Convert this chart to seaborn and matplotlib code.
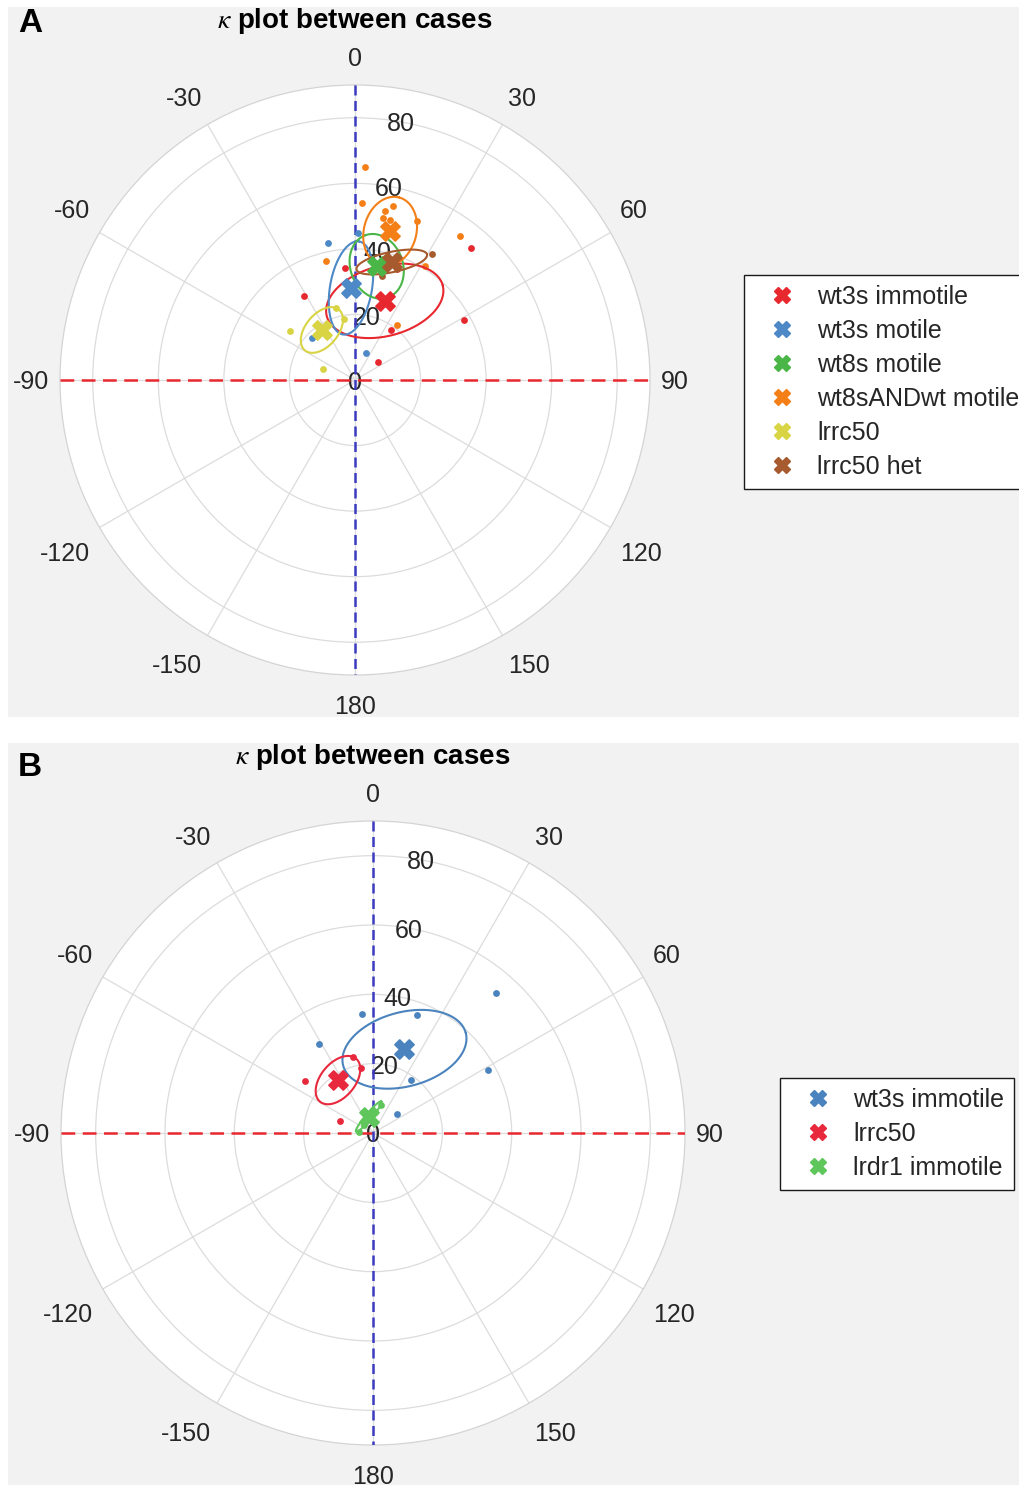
import numpy as np
import matplotlib
matplotlib.use("Agg")
import matplotlib.pyplot as plt
from matplotlib.patches import Rectangle
from matplotlib.lines import Line2D
import seaborn as sns

sns.set_theme(style="white")
plt.rcParams["font.family"] = ["Liberation Sans", "DejaVu Sans"]
plt.rcParams["mathtext.fontset"] = "stix"

W, H = 1019, 1485
DPI = 100

# ---------------- shared case data (theta in degrees, rho) ----------------
wt3s_imm_theta = [41.3, -31.3, -5.3, 61.1, 35.7, 51.5, 20.5]
wt3s_imm_r = [53.6, 30.0, 34.4, 37.9, 18.8, 8.8, 36.2]

wt3s_mot_theta = [-11.1, 1.3, -45.7, 21.8]
wt3s_mot_r = [42.6, 44.9, 18.5, 8.8]

wt8s_mot_theta = []
wt8s_mot_r = []

wt8s_and_wt_theta = [2.7, 2.2, 12.4, 10.1, 9.9, 12.4, 21.3, -13.7, 31.7, 37.9, 36.1]
wt8s_and_wt_r = [65.1, 54.1, 54.5, 52.3, 50.2, 49.9, 52.0, 37.5, 40.7, 21.1, 54.2]

lrrc50_theta = [-53.0, -70.7, -15.0, -10.4]
lrrc50_r = [24.7, 10.2, 22.6, 19.0]

lrrc50_het_theta = [31.6, 14.4]
lrrc50_het_r = [45.1, 32.8]

lrdr1_imm_theta = [-87.1, -48.7, 4.8, 15.0]
lrdr1_imm_r = [4.0, 3.3, 6.0, 8.5]

# group means (theta deg, rho)
mean_theta = {"wt3s immotile": 20.6, "wt3s motile": -2.5, "wt8s motile": 10.8,
              "wt8sANDwt motile": 13.3, "lrrc50": -33.5, "lrrc50 het": 17.3,
              "lrdr1 immotile": -14.5}
mean_r = {"wt3s immotile": 25.8, "wt3s motile": 28.1, "wt8s motile": 35.3,
          "wt8sANDwt motile": 46.6, "lrrc50": 18.3, "lrrc50 het": 37.7,
          "lrdr1 immotile": 4.9}

# spread ellipses: semi-major, semi-minor (rho units), orientation (deg, ccw from 90-direction)
ell_a = {"wt3s immotile": 18.3, "wt3s motile": 14.4, "wt8s motile": 10.1,
         "wt8sANDwt motile": 10.7, "lrrc50": 8.1, "lrrc50 het": 11.0, "lrdr1 immotile": 5.7}
ell_b = {"wt3s immotile": 10.7, "wt3s motile": 6.4, "wt8s motile": 8.0,
         "wt8sANDwt motile": 8.0, "lrrc50": 4.95, "lrrc50 het": 3.1, "lrdr1 immotile": 0.9}
ell_ang = {"wt3s immotile": 15, "wt3s motile": 80, "wt8s motile": 110,
           "wt8sANDwt motile": 75, "lrrc50": 50, "lrrc50 het": 12, "lrdr1 immotile": 50}

points = {"wt3s immotile": (wt3s_imm_theta, wt3s_imm_r),
          "wt3s motile": (wt3s_mot_theta, wt3s_mot_r),
          "wt8s motile": (wt8s_mot_theta, wt8s_mot_r),
          "wt8sANDwt motile": (wt8s_and_wt_theta, wt8s_and_wt_r),
          "lrrc50": (lrrc50_theta, lrrc50_r),
          "lrrc50 het": (lrrc50_het_theta, lrrc50_het_r),
          "lrdr1 immotile": (lrdr1_imm_theta, lrdr1_imm_r)}

panel_a_cases = ["wt3s immotile", "wt3s motile", "wt8s motile", "wt8sANDwt motile", "lrrc50", "lrrc50 het"]
panel_a_colors = ["#e8282f", "#4d88c7", "#4bb648", "#f57f17", "#d8d444", "#a65a2e"]

panel_b_cases = ["wt3s immotile", "lrrc50", "lrdr1 immotile"]
panel_b_colors = ["#4a83bd", "#e8283c", "#5ec65a"]

theta_ticks = list(range(0, 360, 30))
theta_labels = ["0", "30", "60", "90", "120", "150", "180", "-150", "-120", "-90", "-60", "-30"]
r_ticks = [0, 20, 40, 60, 80]
r_max = 90
r_label_angle = 10
TICK_FS = 18
RIM_GAP_PX = 11
UP_SHIFT_PX = 17.5
DOWN_SHIFT_PX = 19
BASE_DROP_PX = 2


def ellipse_outline(tc, rc, a, b, ang, n=300):
    cx = rc * np.sin(np.radians(tc))
    cy = rc * np.cos(np.radians(tc))
    t = np.linspace(0, 2 * np.pi, n)
    phi = np.radians(ang)
    x = cx + a * np.cos(t) * np.cos(phi) - b * np.sin(t) * np.sin(phi)
    y = cy + a * np.cos(t) * np.sin(phi) + b * np.sin(t) * np.cos(phi)
    return np.arctan2(x, y), np.hypot(x, y)


def draw_panel(ax, cases, colors):
    ax.set_theta_zero_location("N")
    ax.set_theta_direction(-1)
    ax.set_facecolor("white")
    ax.set_thetagrids(theta_ticks, labels=[""] * len(theta_ticks))
    ax.set_rlim(0, r_max)
    ax.set_rticks(r_ticks)
    ax.set_yticklabels([""] * len(r_ticks))
    ax.grid(True, color="#dcdcdc", linewidth=0.9)
    ax.spines["polar"].set_color("#d4d4d4")
    ax.spines["polar"].set_linewidth(0.9)

    # angle labels just outside the rim, aligned away from the circle
    for t, lab in zip(theta_ticks, theta_labels):
        s, c = np.sin(np.radians(t)), np.cos(np.radians(t))
        if t in (0, 180):
            ha = "center"
        elif t < 180:
            ha = "left"
        else:
            ha = "right"
        if t in (90, 270):
            dy = 0.0
        elif t < 90 or t > 270:
            dy = UP_SHIFT_PX
        else:
            dy = -DOWN_SHIFT_PX
        dx_px = RIM_GAP_PX * s
        dy_px = RIM_GAP_PX * c + dy - BASE_DROP_PX
        ax.annotate(lab, xy=(np.radians(t), r_max), xytext=(dx_px * 72 / DPI, dy_px * 72 / DPI),
                    textcoords="offset points", ha=ha, va="center",
                    fontsize=TICK_FS, color="#262626", annotation_clip=False)
    # rho labels along a fixed angle
    for v in r_ticks:
        ax.text(np.radians(r_label_angle), v, str(v), ha="center", va="center_baseline",
                fontsize=TICK_FS, color="#262626", zorder=1.6)

    # reference axes
    ax.plot(np.radians([-90, -90, 90, 90]), [r_max, 0, 0, r_max], color="#e8282f",
            linestyle=(0, (5.5, 3.0)), linewidth=1.8, zorder=3)
    ax.plot(np.radians([0, 0, 180, 180]), [r_max, 0, 0, r_max], color="#3c3cc0",
            linestyle=(0, (4.0, 2.2)), linewidth=1.8, zorder=3.1)

    for name, col in zip(cases, colors):
        th, rr = points[name]
        if len(th):
            sns.scatterplot(x=np.radians(th), y=rr, ax=ax, color=col, s=24,
                            linewidth=0, zorder=4, legend=False)
        et, er = ellipse_outline(mean_theta[name], mean_r[name], ell_a[name], ell_b[name], ell_ang[name])
        ax.plot(et, er, color=col, linewidth=1.5, zorder=5)
    for name, col in zip(cases, colors):
        sns.scatterplot(x=[np.radians(mean_theta[name])], y=[mean_r[name]], ax=ax, color=col,
                        marker="X", s=190, linewidth=1.2, edgecolor=col, zorder=6, legend=False)
    ax.set_xlabel("")
    ax.set_ylabel("")


fig = plt.figure(figsize=(W / DPI, H / DPI), dpi=DPI, facecolor="white")

# grey panel backgrounds
fig.add_artist(Rectangle((8 / W, 1 - 717 / H), 1011 / W, 710 / H, transform=fig.transFigure,
                         facecolor="#f2f2f2", edgecolor="none", zorder=-10))
fig.add_artist(Rectangle((8 / W, 0), 1011 / W, 742 / H, transform=fig.transFigure,
                         facecolor="#f2f2f2", edgecolor="none", zorder=-10))

ax_a = fig.add_axes([60 / W, 1 - 675 / H, 590 / W, 590 / H], projection="polar")
draw_panel(ax_a, panel_a_cases, panel_a_colors)

ax_b = fig.add_axes([61 / W, 1 - 1445 / H, 624 / W, 624 / H], projection="polar")
draw_panel(ax_b, panel_b_cases, panel_b_colors)


def add_legend(cases, colors, left_px, top_px):
    handles = [Line2D([], [], marker="X", color=c, linestyle="", markersize=11,
                      markeredgewidth=1.0, markeredgecolor=c)
               for c in colors]
    leg = fig.legend(handles, cases, loc="upper left",
                     bbox_to_anchor=(left_px / W, 1 - top_px / H), bbox_transform=fig.transFigure,
                     fontsize=TICK_FS, frameon=True, fancybox=False, borderpad=0.4,
                     labelspacing=0.4, handlelength=2.24, handletextpad=0.28, borderaxespad=0)
    fr = leg.get_frame()
    fr.set_edgecolor("#1a1a1a")
    fr.set_linewidth(1.0)
    fr.set_facecolor("white")
    fr.set_alpha(1)
    return leg


add_legend(panel_a_cases, panel_a_colors, 744, 275)
add_legend(panel_b_cases, panel_b_colors, 780, 1078)

# panel titles and letters
fig.text(355 / W, 1 - 21 / H, r"$\kappa$ plot between cases", ha="center", va="center",
         fontsize=20, fontweight="bold", color="black")
fig.text(373 / W, 1 - 757 / H, r"$\kappa$ plot between cases", ha="center", va="center",
         fontsize=20, fontweight="bold", color="black")
fig.text(18 / W, 1 - 24 / H, "A", ha="left", va="center", fontsize=24, fontweight="bold", color="black")
fig.text(18 / W, 1 - 768 / H, "B", ha="left", va="center", fontsize=24, fontweight="bold", color="black")

fig.savefig("out.png", dpi=DPI, facecolor="white")
